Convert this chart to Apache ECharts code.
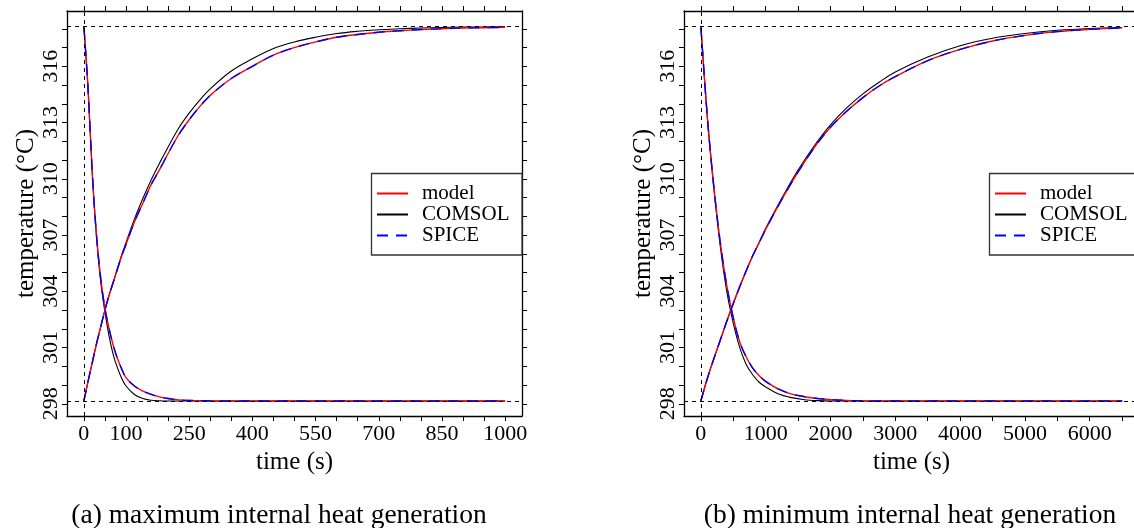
<!DOCTYPE html>
<html><head><meta charset="utf-8">
<script src="https://cdn.jsdelivr.net/npm/echarts@6/dist/echarts.min.js"></script>
<style>html,body{margin:0;padding:0;background:#fff}#c{width:1134px;height:528px}</style>
</head><body><div id="c"></div>
<script>
// ---------- data ----------
const seriesNames = ['model', 'COMSOL', 'SPICE'];
const captions = ['(a) maximum internal heat generation', '(b) minimum internal heat generation'];
const refTemps = [298.15, 318.15];
const refTime = 0;

const timeA = [0,10,20,30,40,50,60,70,80,90,100,120,140,160,180,200,225,250,275,300,350,400,450,500,550,600,650,700,750,800,850,900,950,1000];
const modelHeatA  = [298.15,299.2,300.2,301.2,302.1,303.0,303.8,304.5,305.2,305.9,306.5,307.7,308.7,309.7,310.5,311.35,312.35,313.15,313.85,314.45,315.35,316.0,316.6,317.0,317.3,317.55,317.7,317.82,317.9,317.96,318.0,318.04,318.06,318.08];
const comsolHeatA = [298.15,299.2,300.2,301.2,302.1,303.0,303.8,304.5,305.25,305.95,306.6,307.85,308.95,309.95,310.85,311.7,312.7,313.5,314.2,314.8,315.75,316.4,316.95,317.3,317.55,317.75,317.87,317.95,318.0,318.04,318.07,318.09,318.1,318.11];
const spiceHeatA  = [298.15,299.2,300.2,301.2,302.1,303.0,303.8,304.5,305.2,305.9,306.5,307.7,308.7,309.7,310.5,311.35,312.35,313.15,313.85,314.45,315.35,316.0,316.6,317.0,317.3,317.55,317.7,317.82,317.9,317.96,318.0,318.04,318.06,318.08];
const modelCoolA  = [318.15,314.8,310.3,307.0,304.7,303.1,302.0,301.1,300.4,299.85,299.4,298.95,298.68,298.5,298.37,298.28,298.21,298.18,298.17,298.16,298.15,298.15,298.15,298.15,298.15,298.15,298.15,298.15,298.15,298.15,298.15,298.15,298.15,298.15];
const comsolCoolA = [318.15,314.8,310.3,306.9,304.5,302.9,301.6,300.6,299.9,299.35,298.95,298.5,298.28,298.19,298.16,298.15,298.15,298.15,298.15,298.15,298.15,298.15,298.15,298.15,298.15,298.15,298.15,298.15,298.15,298.15,298.15,298.15,298.15,298.15];
const spiceCoolA  = [318.15,314.8,310.3,307.0,304.7,303.1,302.0,301.1,300.4,299.85,299.4,298.95,298.68,298.5,298.37,298.28,298.21,298.18,298.17,298.16,298.15,298.15,298.15,298.15,298.15,298.15,298.15,298.15,298.15,298.15,298.15,298.15,298.15,298.15];

const timeB = [0,100,200,300,400,500,600,700,800,900,1000,1200,1400,1600,1800,2000,2250,2500,2750,3000,3500,4000,4500,5000,5500,6000,6500];
const modelHeatB  = [298.15,299.35,300.4,301.4,302.4,303.35,304.25,305.1,305.9,306.6,307.3,308.6,309.8,310.9,311.9,312.75,313.6,314.33,314.95,315.45,316.3,316.9,317.35,317.65,317.85,317.97,318.05];
const comsolHeatB = [298.15,299.35,300.4,301.4,302.4,303.35,304.25,305.1,305.9,306.6,307.35,308.65,309.9,311.0,312.0,312.88,313.78,314.53,315.15,315.7,316.5,317.1,317.5,317.75,317.92,318.02,318.07];
const spiceHeatB  = [298.15,299.35,300.4,301.4,302.4,303.35,304.25,305.1,305.9,306.6,307.3,308.6,309.8,310.9,311.9,312.75,313.6,314.33,314.95,315.45,316.3,316.9,317.35,317.65,317.85,317.97,318.05];
const modelCoolB  = [318.15,313.3,309.6,306.6,304.3,302.6,301.3,300.5,299.9,299.5,299.2,298.78,298.52,298.38,298.28,298.22,298.18,298.16,298.15,298.15,298.15,298.15,298.15,298.15,298.15,298.15,298.15];
const comsolCoolB = [318.15,313.3,309.5,306.4,304.0,302.3,301.0,300.1,299.55,299.15,298.9,298.52,298.33,298.22,298.17,298.15,298.15,298.15,298.15,298.15,298.15,298.15,298.15,298.15,298.15,298.15,298.15];
const spiceCoolB  = [318.15,313.3,309.6,306.6,304.3,302.6,301.3,300.5,299.9,299.5,299.2,298.78,298.52,298.38,298.28,298.22,298.18,298.16,298.15,298.15,298.15,298.15,298.15,298.15,298.15,298.15,298.15];

const xTicksA  = [0,50,100,150,200,250,300,350,400,450,500,550,600,650,700,750,800,850,900,950,1000];
const xLabelsA = [0,100,250,400,550,700,850,1000];
const xTicksB  = [0,500,1000,1500,2000,2500,3000,3500,4000,4500,5000,5500,6000,6500];
const xLabelsB = [0,1000,2000,3000,4000,5000,6000];
const yTicks   = [298,299,300,301,302,303,304,305,306,307,308,309,310,311,312,313,314,315,316,317,318];
const yLabels  = [298,301,304,307,310,313,316];

// ---------- styling / layout ----------
const FONT = 'Liberation Serif';
const Y_MIN = 297.35, Y_MAX = 318.95;
const panels = [
  {grid:{left:67, top:11, width:455, height:405}, xmin:-40, xmax:1040, xt:xTicksA, xl:xLabelsA,
   time:timeA, data:{model:[modelHeatA,modelCoolA], COMSOL:[comsolHeatA,comsolCoolA], SPICE:[spiceHeatA,spiceCoolA]},
   legend:{x:376, y:183}, box:{x:371.5, y:173.5, w:150.5, h:81.5}, cap:{x:279, y:516}},
  {grid:{left:684, top:11, width:455, height:405}, xmin:-260, xmax:6760, xt:xTicksB, xl:xLabelsB,
   time:timeB, data:{model:[modelHeatB,modelCoolB], COMSOL:[comsolHeatB,comsolCoolB], SPICE:[spiceHeatB,spiceCoolB]},
   legend:{x:994, y:183}, box:{x:989.5, y:173.5, w:200, h:81.5}, cap:{x:910, y:516}}
];
const styles = {
  model:  {color:'#ff0000', width:1.4, type:'solid'},
  COMSOL: {color:'#000000', width:1.1, type:'solid'},
  SPICE:  {color:'#0000ff', width:1.4, type:[11,8]}
};
const drawOrder = ['COMSOL', 'model', 'SPICE'];

const grids = [], xAxes = [], yAxes = [], series = [], legends = [], graphics = [];
const axisLineStyle = {color:'#000', width:1.3};
const plain = v => String(v);
panels.forEach((p, i) => {
  grids.push(Object.assign({containLabel:false, outerBoundsMode:'none'}, p.grid));
  const xBase = {type:'value', gridIndex:i, min:p.xmin, max:p.xmax,
    axisLine:{show:true, onZero:false, lineStyle:axisLineStyle},
    axisTick:{show:true, inside:false, length:5, lineStyle:{color:'#000', width:1}, customValues:p.xt},
    splitLine:{show:false}};
  xAxes.push(Object.assign({}, xBase, {position:'bottom',
    name:'time (s)', nameLocation:'middle', nameGap:31,
    nameTextStyle:{fontFamily:FONT, fontSize:25, color:'#000'},
    axisLabel:{show:true, customValues:p.xl, formatter:plain, margin:7, fontFamily:FONT, fontSize:22, color:'#000'}}));
  xAxes.push(Object.assign({}, xBase, {position:'top', axisLabel:{show:false}}));
  const yBase = {type:'value', gridIndex:i, min:Y_MIN, max:Y_MAX,
    axisLine:{show:true, onZero:false, lineStyle:axisLineStyle},
    axisTick:{show:true, inside:false, length:5, lineStyle:{color:'#000', width:1}, customValues:yTicks},
    splitLine:{show:false}};
  yAxes.push(Object.assign({}, yBase, {position:'left',
    name:'temperature (°C)', nameLocation:'middle', nameGap:28, nameRotate:90,
    nameTextStyle:{fontFamily:FONT, fontSize:25, color:'#000'},
    axisLabel:{show:true, customValues:yLabels, formatter:plain, rotate:90, margin:5, fontFamily:FONT, fontSize:22, color:'#000'}}));
  yAxes.push(Object.assign({}, yBase, {position:'right', axisLabel:{show:false}}));

  drawOrder.forEach((name, k) => {
    const st = styles[name];
    p.data[name].forEach((vals, j) => {
      const s = {
        type:'line', name:name, xAxisIndex:2*i, yAxisIndex:2*i,
        data:p.time.map((t, n) => [t, vals[n]]),
        showSymbol:false, symbol:'none', smooth:0.35,
        lineStyle:{color:st.color, width:st.width, type:st.type},
        itemStyle:{color:st.color}, emphasis:{disabled:true}, z:2+k
      };
      if (k === 0 && j === 0) {
        s.markLine = {silent:true, symbol:['none','none'], animation:false,
          label:{show:false},
          lineStyle:{color:'#000', width:1, type:[4,4]},
          data:[{yAxis:refTemps[0]}, {yAxis:refTemps[1]}, {xAxis:refTime}]};
      }
      series.push(s);
    });
  });

  legends.push({show:true, orient:'vertical', left:p.legend.x, top:p.legend.y, padding:0,
    itemGap:0, itemWidth:31, itemHeight:14, selectedMode:false, z:100,
    itemStyle:{opacity:0, borderWidth:0},
    data:seriesNames,
    textStyle:{fontFamily:FONT, fontSize:21, color:'#000', lineHeight:20, padding:[0,0,0,9]}});
  graphics.push({type:'rect', shape:{x:p.box.x, y:p.box.y, width:p.box.w, height:p.box.h},
    style:{fill:'#fff', stroke:'#333', lineWidth:1.3}, z:50});
  graphics.push({type:'text', x:p.cap.x, y:p.cap.y,
    style:{text:captions[i], align:'center', verticalAlign:'middle', font:'27.5px "Liberation Serif"', fill:'#000'}});
});

const chart = echarts.init(document.getElementById('c'), null, {renderer:'canvas'});
chart.setOption({
  animation:false,
  backgroundColor:'#fff',
  grid:grids, xAxis:xAxes, yAxis:yAxes, series:series,
  legend:legends, graphic:graphics, tooltip:{show:false}
});
</script></body></html>
